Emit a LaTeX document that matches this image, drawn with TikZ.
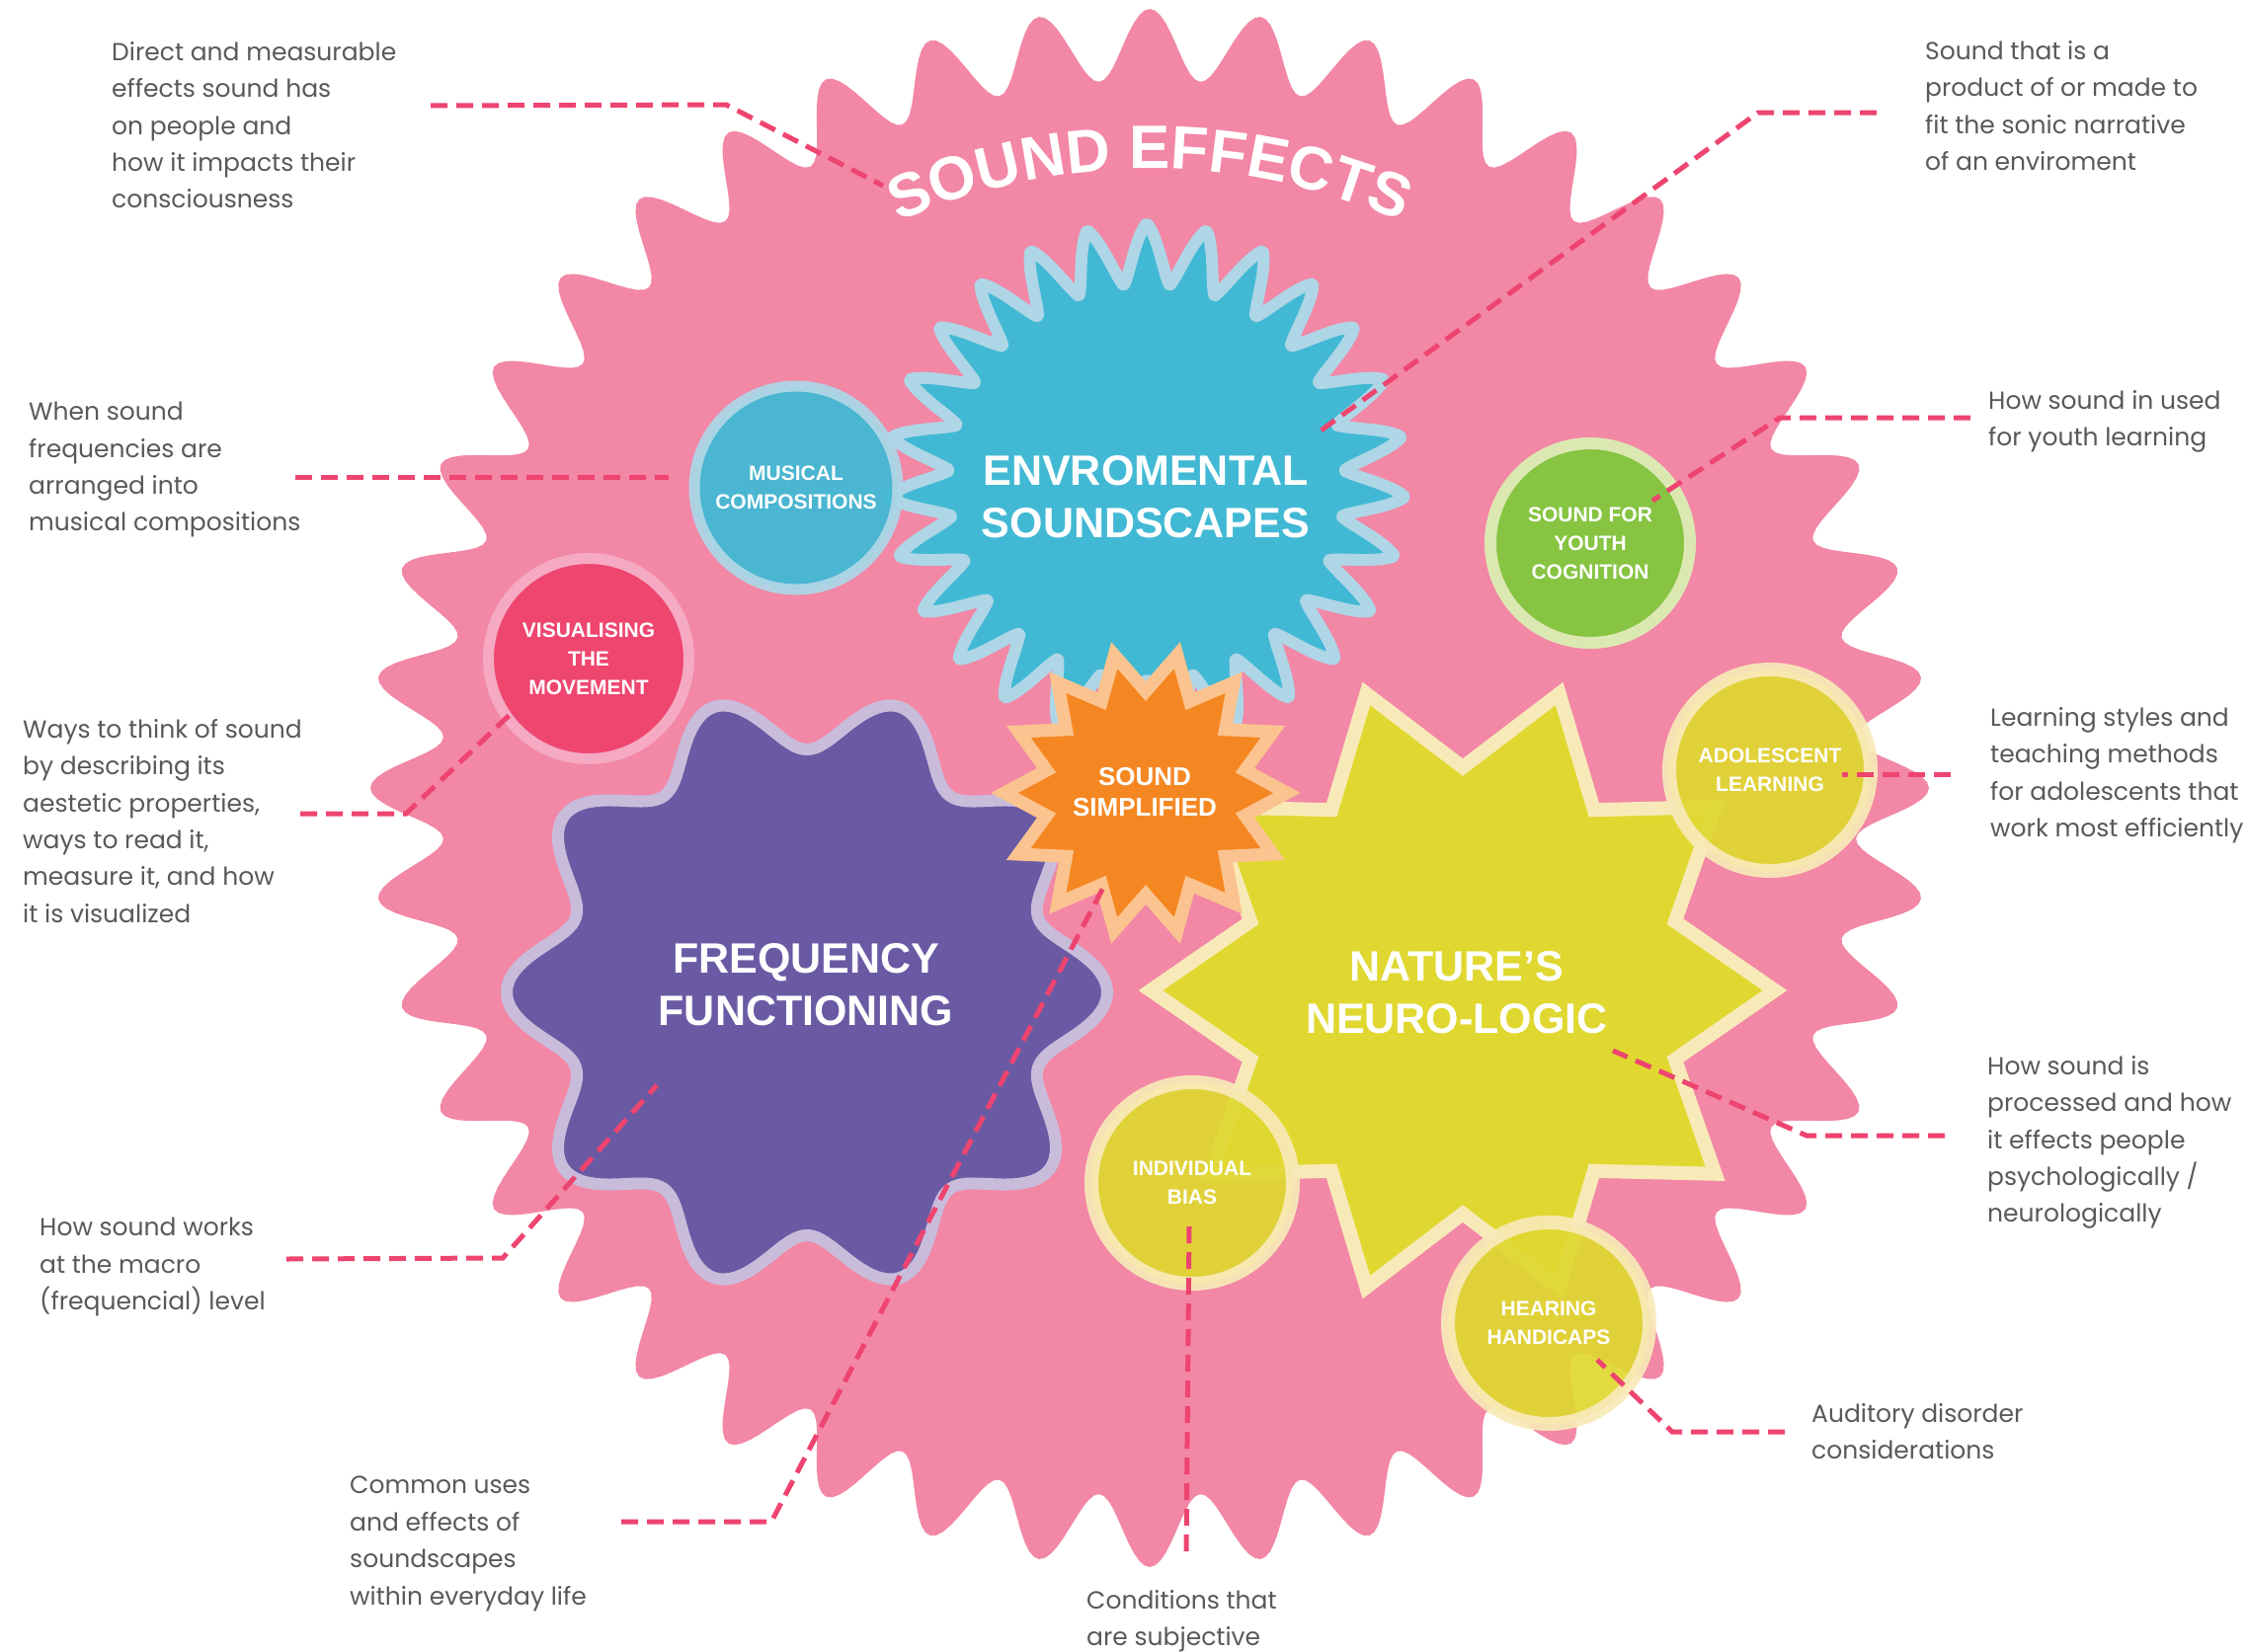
\documentclass[tikz,border=0pt]{standalone}
\usepackage{fontspec}
\setmainfont{Poppins}
\newfontfamily\headfont{Liberation Sans}
\usepackage{xcolor}
\usetikzlibrary{calc, decorations.text}
\definecolor{pinkbg}{HTML}{F287A6}
\definecolor{envblue}{HTML}{42B9D4}
\definecolor{envedge}{HTML}{AED6E6}
\definecolor{freqpurple}{HTML}{6A5AA4}
\definecolor{freqedge}{HTML}{C9BCDB}
\definecolor{simporange}{HTML}{F58722}
\definecolor{simpedge}{HTML}{FBC38F}
\definecolor{neuroyellow}{HTML}{E0D830}
\definecolor{neuroedge}{HTML}{F8EAB8}
\definecolor{youthgreen}{HTML}{86C442}
\definecolor{youthedge}{HTML}{DCE8B2}
\definecolor{visred}{HTML}{EE466F}
\definecolor{visedge}{HTML}{F5A9C3}
\definecolor{leadred}{HTML}{EE4470}
\definecolor{notegray}{HTML}{58595B}

\begin{document}
\begin{tikzpicture}[x=1pt, y=-1pt,
    bubble/.style={circle, inner sep=0pt, text=white, align=center,
      font=\headfont\bfseries\fontsize{21}{29}\selectfont},
    title/.style={text=white, align=center, font=\headfont\bfseries\fontsize{43}{53}\selectfont},
    note/.style={anchor=north west, align=left, inner sep=0pt, text=notegray,
      font=\fontsize{25}{37.4}\selectfont},
    leader/.style={leadred, line width=5pt, dash pattern=on 17pt off 9pt}]

      \fill[white] (0,0) rectangle (2276,1673);
      \useasboundingbox (0,0) rectangle (2276,1673);

      % pink burst
      \coordinate (ctr) at (1164,798);
      \fill[pinkbg] plot[domain=-180:180, samples=881]
        ({1164+(753+36*cos(44*\x))*cos(\x)}, {798-(753+36*cos(44*\x))*sin(\x)}) -- cycle;

      % enviromental soundscapes
      \filldraw[fill=envblue, draw=envedge, line width=12pt, line join=round] plot[domain=-180:180, samples=811]
        ({1161+(231+31*(.6*asin(cos(27*\x-2430))/90+.4*cos(27*\x-2430)))*cos(\x)},
         {488-(231+31*(.6*asin(cos(27*\x-2430))/90+.4*cos(27*\x-2430)))*sin(\x)}) -- cycle;

      \node[bubble, fill=envblue, draw=envedge, line width=11pt, minimum size=206pt,
        fill opacity=.95, draw opacity=.95, text opacity=1] (music) at (806,494) {MUSICAL\\COMPOSITIONS};
      \node[bubble, fill=visred, draw=visedge, line width=11pt, minimum size=203pt] (vis) at (596,667) {VISUALISING\\THE\\MOVEMENT};
      \node[bubble, fill=youthgreen, draw=youthedge, line width=12pt, minimum size=202pt] (youth) at (1610,550) {SOUND FOR\\YOUTH\\COGNITION};

      % frequency functioning
      \filldraw[fill=freqpurple, draw=freqedge, line width=12pt] plot[domain=-180:180, samples=361]
        ({817+(275+29*cos(10*\x))*cos(\x)}, {1005-(275+29*cos(10*\x))*sin(\x)}) -- cycle;

      % nature's neuro-logic
      \filldraw[fill=neuroyellow, draw=neuroedge, line width=14pt, line join=miter] plot[domain=0:19, samples=20]
        ({1481+(271+45*cos(180*\x))*cos(18*\x)}, {1003-(271+45*cos(180*\x))*sin(18*\x)}) -- cycle;

      % sound simplified
      \filldraw[fill=simporange, draw=simpedge, line width=13pt, line join=miter] plot[domain=0:27, samples=28]
        ({1160+(123+20*cos(180*\x))*cos(360/28*\x)}, {803-(123+20*cos(180*\x))*sin(360/28*\x)}) -- cycle;

      \node[bubble, fill=neuroyellow, draw=neuroedge, line width=14pt, minimum size=204pt,
        fill opacity=.92, draw opacity=.92, text opacity=1] (adol) at (1792,780) {ADOLESCENT\\LEARNING};
      \node[bubble, fill=neuroyellow, draw=neuroedge, line width=14pt, minimum size=204pt,
        fill opacity=.92, draw opacity=.92, text opacity=1] (bias) at (1207,1198) {INDIVIDUAL\\BIAS};
      \node[bubble, fill=neuroyellow, draw=neuroedge, line width=14pt, minimum size=204pt,
        fill opacity=.92, draw opacity=.92, text opacity=1] (hear) at (1568,1340) {HEARING\\HANDICAPS};

      \node[title] (env) at (1160,503) {ENVROMENTAL\\SOUNDSCAPES};
      \node[title] (freq) at (816,997) {FREQUENCY\\FUNCTIONING};
      \node[title] (neuro) at (1475,1005) {NATURE’S\\NEURO-LOGIC};
      \node[text=white, align=center, font=\headfont\bfseries\fontsize{26}{31}\selectfont] (simp) at (1159,802) {SOUND\\SIMPLIFIED};

      \path[decorate, decoration={text along path, text align=center, text color=white,
        text={|\headfont\bfseries\fontsize{62}{62}\selectfont|SOUND EFFECTS}}]
        ($(ctr)+(150:627pt)$) arc[start angle=150, end angle=30, radius=627pt];

      % notes
      \node[note] (direct) at (113,42) {Direct and measurable\\effects sound has\\on people and\\how it impacts their\\consciousness};
      \node[note] (when) at (29,407) {When sound\\frequencies are\\arranged into\\musical compositions};
      \node[note] (ways) at (23,728) {Ways to think of sound\\by describing its\\aestetic properties,\\ways to read it,\\measure it, and how\\it is visualized};
      \node[note] (macro) at (40,1233) {How sound works\\at the macro\\(frequencial) level};
      \node[note] (uses) at (354,1495) {Common uses\\and effects of\\soundscapes\\within everyday life};
      \node[note] (cond) at (1100,1610) {Conditions that\\are subjective};
      \node[note] (audit) at (1834,1421) {Auditory disorder\\considerations};
      \node[note] (proc) at (2012,1069) {How sound is\\processed and how\\it effects people\\psychologically /\\neurologically};
      \node[note] (learn) at (2015,716) {Learning styles and\\teaching methods\\for adolescents that\\work most efficiently};
      \node[note] (used) at (2013,395) {How sound in used\\for youth learning};
      \node[note] (prod) at (1949,41) {Sound that is a\\product of or made to\\fit the sonic narrative\\of an enviroment};

      % leader ends and bends
      \foreach \n/\px/\py in {dirA/436/107, dirB/735/106, dirC/894/188, whenA/299/483, whenB/677/483,
          waysA/304/824, waysB/411/824, waysC/518/722, macroA/290/1275, macroB/509/1274, macroC/665/1099,
          usesA/629/1541, usesB/781/1541, usesC/1118/897, condA/1201/1571, condB/1204/1242,
          auditA/1807/1450, auditB/1693/1450, auditC/1617/1377, procA/1969/1150, procB/1829/1150, procC/1633/1064,
          learnA/1975/784, learnB/1865/784, usedA/1995/423, usedB/1802/423, usedC/1673/507,
          prodA/1900/114, prodB/1780/114, prodC/1336/437}
        \coordinate (\n) at (\px,\py);

      \draw[leader] (dirA) -- (dirB) -- (dirC);
      \draw[leader] (whenA) -- (whenB);
      \draw[leader] (waysA) -- (waysB) -- (waysC);
      \draw[leader] (macroA) -- (macroB) -- (macroC);
      \draw[leader] (usesA) -- (usesB) -- (usesC);
      \draw[leader] (condA) -- (condB);
      \draw[leader] (auditA) -- (auditB) -- (auditC);
      \draw[leader] (procA) -- (procB) -- (procC);
      \draw[leader] (learnA) -- (learnB);
      \draw[leader] (usedA) -- (usedB) -- (usedC);
      \draw[leader] (prodA) -- (prodB) -- (prodC);
    \end{tikzpicture}
\end{document}
